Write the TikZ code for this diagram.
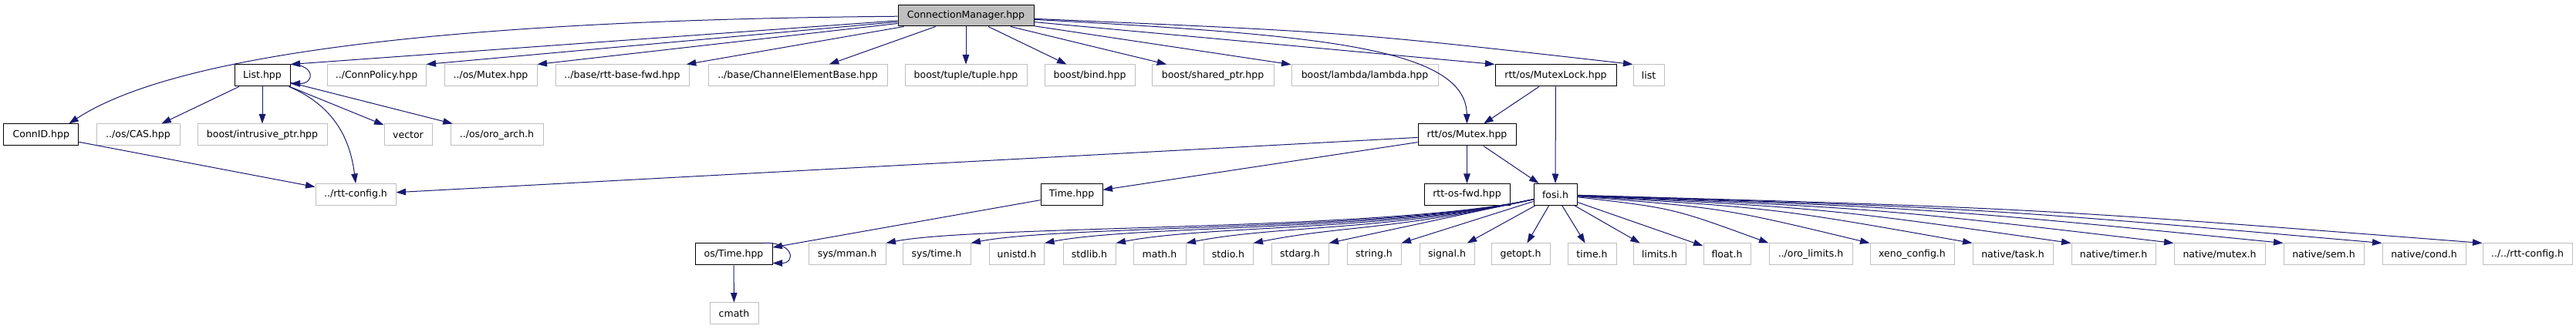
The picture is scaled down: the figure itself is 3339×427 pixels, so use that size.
\documentclass[tikz,border=0pt]{standalone}
\usepackage{fontspec}
\setmainfont{DejaVu Sans}
\usepackage{xcolor}
\usepackage{tikz}
\usetikzlibrary{arrows.meta}
\definecolor{edgeblue}{HTML}{191970}
\definecolor{boxgray}{HTML}{BFBFBF}
\tikzstyle{docfile}=[rectangle,draw=black,line width=1pt,minimum height=28pt,inner sep=0pt,font=\fontsize{12.5}{15}\selectfont]
\tikzstyle{extfile}=[docfile,draw=boxgray]
\tikzstyle{root}=[docfile,fill=boxgray,minimum height=27pt]
\tikzstyle{incl}=[-{Triangle[length=12.5pt,width=8.5pt]},color=edgeblue,line width=1pt]

\begin{document}
\begin{tikzpicture}[x=1pt,y=-1pt]
        \useasboundingbox (0,0) rectangle (3339,427);
        % top
        \node at (1252, 20.5) [root, minimum width=176pt] (CM) {ConnectionManager.hpp};
        \node at ( 340, 98) [docfile, minimum width=72pt] (List) {List.hpp};
        \node at ( 488, 98) [extfile, minimum width=128pt] (ConnPolicy) {../ConnPolicy.hpp};
        \node at ( 636, 98) [extfile, minimum width=120pt] (osMutex) {../os/Mutex.hpp};
        \node at ( 806.5, 98) [extfile, minimum width=173pt] (baseFwd) {../base/rtt-base-fwd.hpp};
        \node at (1034, 98) [extfile, minimum width=232pt] (chanBase) {../base/ChannelElementBase.hpp};
        \node at (1252, 98) [extfile, minimum width=158pt] (tuple) {boost/tuple/tuple.hpp};
        \node at (1412.5, 98) [extfile, minimum width=117pt] (bind) {boost/bind.hpp};
        \node at (1572, 98) [extfile, minimum width=158pt] (sharedPtr) {boost/shared\_ptr.hpp};
        \node at (1769, 98) [extfile, minimum width=190pt] (lambda) {boost/lambda/lambda.hpp};
        \node at (2016.5, 98) [docfile, minimum width=157pt] (mutexLock) {rtt/os/MutexLock.hpp};
        \node at (2137, 98) [extfile, minimum width=40pt] (stdList) {list};
        % second row
        \node at (  53.3, 175) [docfile, minimum width=97pt] (ConnID) {ConnID.hpp};
        \node at ( 179, 175) [extfile, minimum width=108pt] (CAS) {../os/CAS.hpp};
        \node at ( 340, 175) [extfile, minimum width=168pt] (intrusive) {boost/intrusive\_ptr.hpp};
        \node at ( 529, 175) [extfile, minimum width=62pt] (vector) {vector};
        \node at ( 644, 175) [extfile, minimum width=120pt] (oroArch) {../os/oro\_arch.h};
        \node at (1901.5, 175) [docfile, minimum width=127pt] (rttMutex) {rtt/os/Mutex.hpp};
        % third row
        \node at ( 461, 252.5) [extfile, minimum width=104pt] (rttConfig) {../rtt-config.h};
        \node at (1389, 252.5) [docfile, minimum width=80pt] (Time) {Time.hpp};
        \node at (1901.5, 252.5) [docfile, minimum width=111pt] (osFwd) {rtt-os-fwd.hpp};
        \node at (2016, 252.5) [docfile, minimum width=56pt] (fosi) {fosi.h};
        % bottom row
        \node at ( 951, 330) [docfile, minimum width=100pt] (osTime) {os/Time.hpp};
        \node at ( 951.5, 407) [extfile, minimum width=63pt] (cmath) {cmath};
        \node at (1098, 330) [extfile, minimum width=100pt] (mman) {sys/mman.h};
        \node at (1214, 330) [extfile, minimum width=88pt] (sysTime) {sys/time.h};
        \node at (1318, 330) [extfile, minimum width=71pt] (unistd) {unistd.h};
        \node at (1412, 330) [extfile, minimum width=68pt] (stdlib) {stdlib.h};
        \node at (1503, 330) [extfile, minimum width=68pt] (math) {math.h};
        \node at (1592, 330) [extfile, minimum width=64pt] (stdio) {stdio.h};
        \node at (1685, 330) [extfile, minimum width=74pt] (stdarg) {stdarg.h};
        \node at (1781, 330) [extfile, minimum width=70pt] (string) {string.h};
        \node at (1875.5, 330) [extfile, minimum width=71pt] (signal) {signal.h};
        \node at (1971, 330) [extfile, minimum width=76pt] (getopt) {getopt.h};
        \node at (2063.5, 330) [extfile, minimum width=63pt] (timeH) {time.h};
        \node at (2151, 330) [extfile, minimum width=68pt] (limits) {limits.h};
        \node at (2238.5, 330) [extfile, minimum width=61pt] (float) {float.h};
        \node at (2347, 330) [extfile, minimum width=108pt] (oroLimits) {../oro\_limits.h};
        \node at (2478.5, 330) [extfile, minimum width=109pt] (xeno) {xeno\_config.h};
        \node at (2609, 330) [extfile, minimum width=104pt] (task) {native/task.h};
        \node at (2739.5, 330) [extfile, minimum width=109pt] (timer) {native/timer.h};
        \node at (2877, 330) [extfile, minimum width=118pt] (nMutex) {native/mutex.h};
        \node at (3012, 330) [extfile, minimum width=104pt] (sem) {native/sem.h};
        \node at (3142, 330) [extfile, minimum width=108pt] (cond) {native/cond.h};
        \node at (3276, 330) [extfile, minimum width=116pt] (rttConfigB) {../../rtt-config.h};
        % ConnectionManager.hpp
        \draw [incl] (CM) .. controls (700,25) and (250,55) .. ([xshift=-13pt]ConnID.north east);
        \draw [incl] (CM) to (List.north east);
        \draw [incl] (CM) to (ConnPolicy.north east);
        \draw [incl] (CM) to (osMutex.north east);
        \draw [incl] (CM) to (baseFwd);
        \draw [incl] (CM) to (chanBase);
        \draw [incl] (CM) to (tuple);
        \draw [incl] (CM) to (bind);
        \draw [incl] (CM) to (sharedPtr);
        \draw [incl] (CM) to (lambda);
        \draw [incl] (CM) to (mutexLock.north west);
        \draw [incl] (CM) .. controls (1700,45) and (1900,60) .. (rttMutex.north);
        \draw [incl] (CM) .. controls (1750,42) .. (stdList.north west);
        % List.hpp
        \draw [incl] (List.north east) .. controls +(32,0) and +(32,0) .. ([yshift=4pt]List.south east);
        \draw [incl] (List) to (CAS);
        \draw [incl] (List) to (intrusive);
        \draw [incl] (List) to (vector);
        \draw [incl] (List) to (oroArch);
        \draw [incl] (List) .. controls (440,140) and (455,190) .. (rttConfig.north);
        \draw [incl] (ConnID) to (rttConfig);
        % mutexes
        \draw [incl] (mutexLock) to (rttMutex);
        \draw [incl] (mutexLock) to (fosi);
        \draw [incl] (rttMutex) to (rttConfig);
        \draw [incl] (rttMutex) to (Time);
        \draw [incl] (rttMutex) to (osFwd);
        \draw [incl] (rttMutex) to (fosi);
        % time
        \draw [incl] (Time) to (osTime);
        \draw [incl] ([xshift=-12pt]osTime.north east) .. controls +(40,-2) and +(30,0) .. ([yshift=3pt]osTime.south east);
        \draw [incl] (osTime) to (cmath);
        % fosi.h
        \draw [incl] (fosi) .. controls (1800,300) and (1268,292) .. (mman.north east);
        \draw [incl] (fosi) .. controls (1800,300) and (1378,292) .. (sysTime.north east);
        \draw [incl] (fosi) .. controls (1800,300) and (1474,292) .. (unistd.north east);
        \draw [incl] (fosi) .. controls (1800,300) and (1566,292) .. (stdlib.north east);
        \draw [incl] (fosi) .. controls (1800,300) and (1657,292) .. (math.north east);
        \draw [incl] (fosi) .. controls (1800,300) and (1744,292) .. (stdio.north east);
        \draw [incl] (fosi) to (stdarg.north east);
        \draw [incl] (fosi) to (string.north east);
        \draw [incl] (fosi) to (signal);
        \draw [incl] (fosi) to (getopt);
        \draw [incl] (fosi) to (timeH);
        \draw [incl] (fosi) to (limits);
        \draw [incl] (fosi) to (float);
        \draw [incl] (fosi) .. controls (2168,270) .. (oroLimits.north west);
        \draw [incl] (fosi) .. controls (2234,270) .. (xeno.north west);
        \draw [incl] (fosi) .. controls (2300,270) .. (task.north west);
        \draw [incl] (fosi) .. controls (2364,270) .. (timer.north west);
        \draw [incl] (fosi) .. controls (2431,270) .. (nMutex.north west);
        \draw [incl] (fosi) .. controls (2501,270) .. (sem.north west);
        \draw [incl] (fosi) .. controls (2566,270) .. (cond.north west);
        \draw [incl] (fosi) .. controls (2631,270) .. (rttConfigB.north west);
\end{tikzpicture}
\end{document}
